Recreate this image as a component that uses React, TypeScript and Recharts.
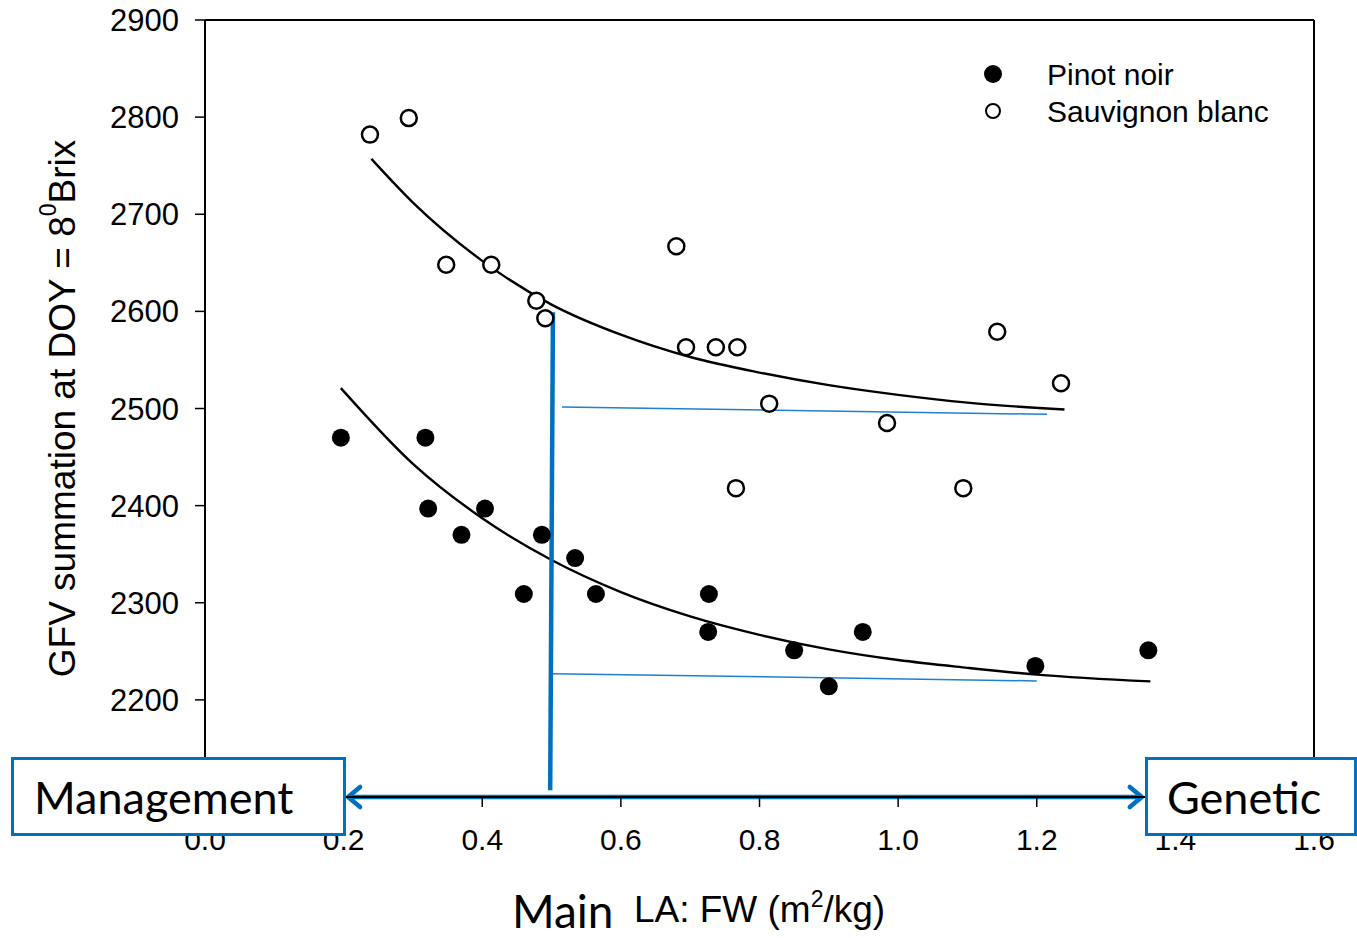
import React from 'react';
import { ComposedChart, Scatter, Line, XAxis, YAxis, ReferenceLine } from 'recharts';

// Pinot noir (filled circles)
const pinotNoir = [
  { x: 0.196, y: 2470 }, { x: 0.318, y: 2470 }, { x: 0.322, y: 2397 }, { x: 0.404, y: 2397 },
  { x: 0.370, y: 2370 }, { x: 0.486, y: 2370 }, { x: 0.534, y: 2346 }, { x: 0.460, y: 2309 },
  { x: 0.564, y: 2309 }, { x: 0.727, y: 2309 }, { x: 0.726, y: 2270 }, { x: 0.850, y: 2251 },
  { x: 0.949, y: 2270 }, { x: 0.900, y: 2214 }, { x: 1.198, y: 2235 }, { x: 1.361, y: 2251 },
];

// Sauvignon blanc (open circles)
const sauvignonBlanc = [
  { x: 0.238, y: 2782 }, { x: 0.294, y: 2799 }, { x: 0.348, y: 2648 }, { x: 0.413, y: 2648 },
  { x: 0.478, y: 2611 }, { x: 0.491, y: 2593 }, { x: 0.680, y: 2667 }, { x: 0.694, y: 2563 },
  { x: 0.737, y: 2563 }, { x: 0.768, y: 2563 }, { x: 0.814, y: 2505 }, { x: 0.766, y: 2418 },
  { x: 0.984, y: 2485 }, { x: 1.094, y: 2418 }, { x: 1.143, y: 2579 }, { x: 1.235, y: 2526 },
];

// Fitted curves
const pinotFit = [
  { x: 0.196, y: 2521 }, { x: 0.3, y: 2443 }, { x: 0.4, y: 2387 }, { x: 0.5, y: 2344 },
  { x: 0.6, y: 2311 }, { x: 0.7, y: 2286 }, { x: 0.8, y: 2267 }, { x: 0.9, y: 2252 },
  { x: 1.0, y: 2241 }, { x: 1.1, y: 2233 }, { x: 1.2, y: 2226 }, { x: 1.364, y: 2219 },
];
const sauvFit = [
  { x: 0.24, y: 2757 }, { x: 0.3, y: 2712 }, { x: 0.4, y: 2652 }, { x: 0.5, y: 2607 },
  { x: 0.6, y: 2576 }, { x: 0.7, y: 2553 }, { x: 0.8, y: 2537 }, { x: 0.9, y: 2524 },
  { x: 1.0, y: 2514 }, { x: 1.1, y: 2506 }, { x: 1.24, y: 2499 },
];

// Blue annotation segments
const upperBlue = [{ x: 0.515, y: 2501.5 }, { x: 1.215, y: 2494 }];
const lowerBlue = [{ x: 0.502, y: 2227 }, { x: 1.2, y: 2219.5 }];
const verticalBlue = [{ x: 0.502, y: 2599 }, { x: 0.498, y: 2107 }];
const arrowSeg = [{ x: 0.205, y: 2100 }, { x: 1.353, y: 2100 }];

const xTicks = [0, 0.2, 0.4, 0.6, 0.8, 1.0, 1.2, 1.4, 1.6];
const yTicks = [2200, 2300, 2400, 2500, 2600, 2700, 2800, 2900];
const legendItems = [
  { name: 'Pinot noir', filled: true },
  { name: 'Sauvignon blanc', filled: false },
];

const BLUE = '#0070C0';
const ARIAL = '"Liberation Sans", Arial, sans-serif';
const CAL = 'Lato, "Open Sans", sans-serif';

const FilledDot = (p: any) => <circle cx={p.cx} cy={p.cy} r={9} fill="#000" />;
const OpenDot = (p: any) => <circle cx={p.cx} cy={p.cy} r={8} fill="#fff" stroke="#000" strokeWidth={2.5} />;

const ArrowShape = (p: any) => {
  const { x1, y1, x2, y2 } = p;
  const h = 13;
  const w = 10;
  return (
    <g>
      <line x1={x1} y1={y1} x2={x2} y2={y2} stroke={BLUE} strokeWidth={4.5} />
      <polyline points={`${x1 + h},${y1 - w} ${x1 + 1},${y1} ${x1 + h},${y1 + w}`} fill="none" stroke={BLUE} strokeWidth={4.5} strokeLinecap="round" strokeLinejoin="round" />
      <polyline points={`${x2 - h},${y2 - w} ${x2 - 1},${y2} ${x2 - h},${y2 + w}`} fill="none" stroke={BLUE} strokeWidth={4.5} strokeLinecap="round" strokeLinejoin="round" />
    </g>
  );
};

const LegendBox = () => (
  <div style={{ position: 'absolute', left: 980, top: 56, fontFamily: ARIAL, fontSize: 30, color: '#000' }}>
    {legendItems.map((it) => (
      <div key={it.name} style={{ display: 'flex', alignItems: 'center', height: 37 }}>
        <svg width={67} height={37}>
          {it.filled ? (
            <circle cx={13} cy={18} r={9} fill="#000" />
          ) : (
            <circle cx={13} cy={18} r={7} fill="#fff" stroke="#000" strokeWidth={2} />
          )}
        </svg>
        <span>{it.name}</span>
      </div>
    ))}
  </div>
);

const YLabel = (props: any) => {
  const vb = props.viewBox || { x: 0, y: 0, width: 0, height: 0 };
  const cx = 62;
  const cy = vb.y + vb.height / 2;
  return (
    <text x={cx} y={cy} transform={`rotate(-90, ${cx}, ${cy})`} textAnchor="middle" dominantBaseline="central" fontFamily={ARIAL} fontSize={37} fill="#000">
      <tspan>GFV summation at DOY = 8</tspan>
      <tspan fontSize={23} dy={-14}>0</tspan>
      <tspan dy={14}>Brix</tspan>
    </text>
  );
};

const XLabel = (props: any) => {
  const vb = props.viewBox || { x: 0, y: 0, width: 0, height: 0 };
  const cx = vb.x + vb.width / 2;
  return (
    <g>
      <text x={cx - 146} y={928} textAnchor="end" fontFamily={CAL} fontSize={46} fill="#000">Main</text>
      <text x={cx} y={922} textAnchor="middle" fontFamily={ARIAL} fontSize={37} fill="#000">
        <tspan>LA: FW (m</tspan>
        <tspan fontSize={23} dy={-15}>2</tspan>
        <tspan dy={15}>/kg)</tspan>
      </text>
    </g>
  );
};

const boxStyle: React.CSSProperties = {
  position: 'absolute',
  boxSizing: 'border-box',
  border: `3.5px solid ${BLUE}`,
  background: '#fff',
  height: 79,
  top: 757,
  fontFamily: CAL,
  fontSize: 45,
  color: '#000',
  display: 'flex',
  alignItems: 'center',
};

export default function App() {
  return (
    <div style={{ position: 'absolute', left: 0, top: 0, width: 1357, height: 938, background: '#fff' }}>
      <ComposedChart width={1357} height={938} margin={{ top: 20, right: 43, bottom: 81, left: 105 }}>
        <XAxis
          type="number"
          dataKey="x"
          domain={[0, 1.6]}
          ticks={xTicks}
          tickFormatter={(v: number) => v.toFixed(1)}
          height={60}
          tickSize={10}
          tickMargin={22}
          axisLine={{ stroke: '#000', strokeWidth: 2 }}
          tickLine={{ stroke: '#000', strokeWidth: 1.5 }}
          tick={{ fill: '#000', fontSize: 30, fontFamily: ARIAL }}
          label={<XLabel />}
        />
        <YAxis
          type="number"
          dataKey="y"
          domain={[2100, 2900]}
          ticks={yTicks}
          width={100}
          tickSize={10}
          tickMargin={16}
          axisLine={{ stroke: '#000', strokeWidth: 2 }}
          tickLine={{ stroke: '#000', strokeWidth: 1.5 }}
          tick={{ fill: '#000', fontSize: 31, fontFamily: ARIAL }}
          label={<YLabel />}
        />
        <ReferenceLine y={2900} stroke="#000" strokeWidth={2} ifOverflow="visible" />
        <ReferenceLine x={1.6} stroke="#000" strokeWidth={2} ifOverflow="visible" />
        <Line data={sauvFit} dataKey="y" type="monotone" stroke="#000" strokeWidth={2.4} dot={false} isAnimationActive={false} legendType="none" />
        <Line data={pinotFit} dataKey="y" type="monotone" stroke="#000" strokeWidth={2.4} dot={false} isAnimationActive={false} legendType="none" />
        <ReferenceLine segment={upperBlue} stroke="#1F80D0" strokeWidth={1.5} ifOverflow="visible" />
        <ReferenceLine segment={lowerBlue} stroke="#1F80D0" strokeWidth={1.5} ifOverflow="visible" />
        <ReferenceLine segment={verticalBlue} stroke={BLUE} strokeWidth={4.5} ifOverflow="visible" />
        <Scatter name="Pinot noir" data={pinotNoir} dataKey="y" shape={FilledDot} isAnimationActive={false} />
        <Scatter name="Sauvignon blanc" data={sauvignonBlanc} dataKey="y" shape={OpenDot} isAnimationActive={false} />
        <ReferenceLine segment={arrowSeg} ifOverflow="visible" shape={ArrowShape} />
      </ComposedChart>
      <LegendBox />
      <div style={{ ...boxStyle, left: 11, width: 335, paddingLeft: 20 }}>Management</div>
      <div style={{ ...boxStyle, left: 1145, width: 212, paddingLeft: 19 }}>Genetic</div>
    </div>
  );
}
